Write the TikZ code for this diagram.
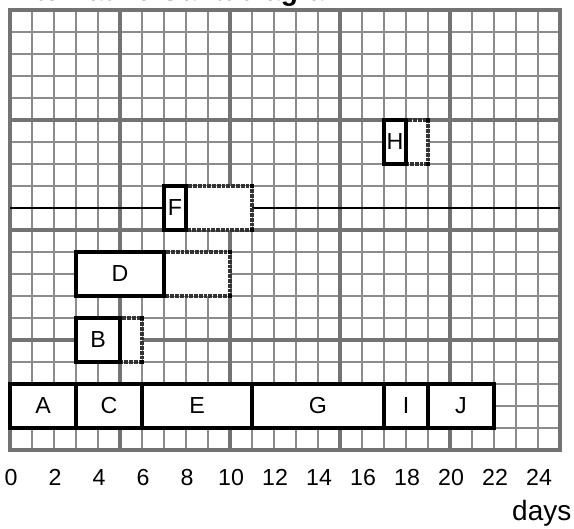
\documentclass[tikz,border=0pt]{standalone}
\usepackage{fontspec}
\setmainfont{Liberation Sans}
\usepackage{tikz}

\begin{document}
\begin{tikzpicture}[x=0.55cm,y=0.55cm,
  minor/.style={draw=black!45,line width=1.5pt},
  major/.style={draw=black!55,line width=2.6pt},
  taskbar/.style={draw=black,line width=2.6pt,fill=white},
  slack/.style={draw=black!80,line width=2.2pt,dash pattern=on 0.45pt off 0.45pt,fill=white},
  lbl/.style={font=\fontsize{16.5}{19}\selectfont}]
  \useasboundingbox (-0.4545,-3.591) rectangle (25.636,20.4545);
  % title, cut off at the top edge
  \node[anchor=base west,inner sep=0pt,font=\fontsize{19.9}{24}\bfseries\selectfont] (title) at (-0.14,20.43) {Alternative Gantt diagram};
  % grid
  \foreach \i in {1,...,24} \draw[minor] (\i,0) -- (\i,20);
  \foreach \j in {1,...,19} \draw[minor] (0,\j) -- (25,\j);
  \foreach \i in {5,10,15,20} \draw[major] (\i,0) -- (\i,20);
  \foreach \j in {5,10,15} \draw[major] (0,\j) -- (25,\j);
  \draw[major] (0,0) rectangle (25,20);
  \draw[line width=1pt] (0,11) -- (25,11);
  % slack boxes
  \foreach \xa/\xb/\ya in {5/6/4, 7/10/7, 8/11/10, 18/19/13} {
    \draw[slack] (\xa,\ya) rectangle (\xb,\ya+2);
    \foreach \cx/\cy in {\xa/\ya, \xb/\ya, \xa/\ya+2, \xb/\ya+2}
      \fill (\cx-0.09,\cy-0.09) rectangle ++(0.18,0.18);
  }
  % tasks
  \draw[taskbar] (3,4) rectangle (5,6);
  \draw[taskbar] (3,7) rectangle (7,9);
  \draw[taskbar] (7,10) rectangle (8,12);
  \draw[taskbar] (17,13) rectangle (18,15);
  \draw[taskbar] (0,1) rectangle (3,3);
  \draw[taskbar] (3,1) rectangle (6,3);
  \draw[taskbar] (6,1) rectangle (11,3);
  \draw[taskbar] (11,1) rectangle (17,3);
  \draw[taskbar] (17,1) rectangle (19,3);
  \draw[taskbar] (19,1) rectangle (22,3);
  \node[lbl] (B) at (4,5) {B};
  \node[lbl] (D) at (5,8) {D};
  \node[lbl] (F) at (7.5,11) {F};
  \node[lbl] (H) at (17.5,14) {H};
  \node[lbl] (A) at (1.5,2) {A};
  \node[lbl] (C) at (4.5,2) {C};
  \node[lbl] (E) at (8.5,2) {E};
  \node[lbl] (G) at (14,2) {G};
  \node[lbl] (I) at (18,2) {I};
  \node[lbl] (J) at (20.5,2) {J};
  % axis
  \foreach \d in {0,2,...,24}
    \node[lbl,anchor=base] (t\d) at (\d+0.05,-1.6) {\d};
  \node[anchor=base,inner sep=0pt,font=\fontsize{19.9}{24}\selectfont] (days) at (24.17,-3.21) {days};
\end{tikzpicture}
\end{document}
